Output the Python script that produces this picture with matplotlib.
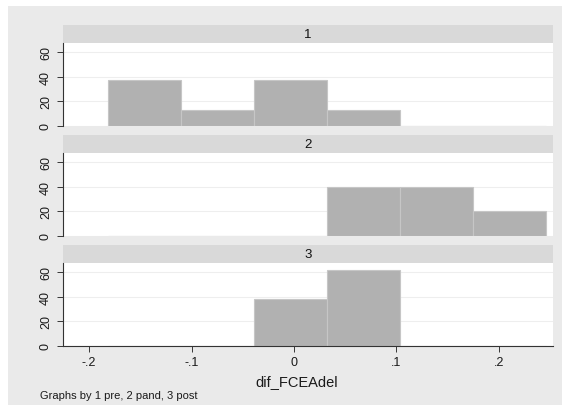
import matplotlib.pyplot as plt
from matplotlib.patches import Rectangle

plt.rcParams['font.family'] = ['Liberation Sans', 'DejaVu Sans']

# histogram bins (left edges) shared by all panels
bin_width = 0.0712
bin_edges = [-0.1815, -0.1103, -0.0391, 0.0321, 0.1033, 0.1745]

panels = ['1', '2', '3']
pct_1 = [37.5, 12.5, 37.5, 12.5, 0, 0]
pct_2 = [0, 0, 0, 40, 40, 20]
pct_3 = [0, 0, 38.5, 61.5, 0, 0]
values = [pct_1, pct_2, pct_3]

xticks = [-0.2, -0.1, 0, 0.1, 0.2]
xticklabels = ['-.2', '-.1', '0', '.1', '.2']
yticks = [0, 20, 40, 60]

W, H = 562, 406
fig = plt.figure(figsize=(W / 100, H / 100), dpi=100)
fig.patch.set_facecolor('white')
fig.patches.append(Rectangle((8 / W, 0), 1 - 8 / W, 1 - 7 / H, transform=fig.transFigure,
                             facecolor='#eaeaea', edgecolor='none', zorder=-10))

left, right = 63, 553
tops = [44, 154, 264]
ph = 83
sh = 18

for i, (name, vals) in enumerate(zip(panels, values)):
    top = tops[i]
    # strip header
    sax = fig.add_axes([left / W, 1 - top / H, (right - left) / W, sh / H])
    sax.set_facecolor('#d9d9d9')
    sax.set_xticks([])
    sax.set_yticks([])
    for s in sax.spines.values():
        s.set_visible(False)
    sax.text(0.5, 0.5, name, ha='center', va='center', fontsize=9.5, color='#111111')

    ax = fig.add_axes([left / W, 1 - (top + ph) / H, (right - left) / W, ph / H])
    ax.set_facecolor('white')
    ax.bar(bin_edges, vals, width=bin_width, align='edge', color='#b1b1b1',
           edgecolor='#c6c6c6', linewidth=0.8, zorder=2)
    ax.set_xlim(-0.2254, 0.2527)
    ax.set_ylim(-0.3, 67.5)
    ax.set_yticks(yticks)
    ax.set_yticklabels([str(t) for t in yticks], rotation=90, va='center', fontsize=9)
    ax.grid(axis='y', color='#eeeeee', linewidth=0.8, zorder=1)
    ax.tick_params(axis='y', length=4, width=0.6, pad=4, colors='#1a1a1a')
    for s in ['top', 'right']:
        ax.spines[s].set_visible(False)
    ax.spines['left'].set_linewidth(0.8)
    ax.spines['left'].set_color('#333333')
    if i < 2:
        ax.spines['bottom'].set_visible(False)
        ax.set_xticks([])
    else:
        ax.spines['bottom'].set_linewidth(0.8)
        ax.spines['bottom'].set_color('#333333')
        ax.set_xticks(xticks)
        ax.set_xticklabels(xticklabels, fontsize=9)
        ax.tick_params(axis='x', length=4, width=0.6, pad=3, colors='#1a1a1a')

fig.text(297 / W, 1 - 382 / H, 'dif_FCEAdel', fontsize=10.5, ha='center', va='center',
         color='#1a1a1a')
fig.text(40 / W, 1 - 396 / H, 'Graphs by 1 pre, 2 pand, 3 post', fontsize=8,
         ha='left', va='center', color='#1a1a1a')

fig.savefig('out.png', dpi=100)
